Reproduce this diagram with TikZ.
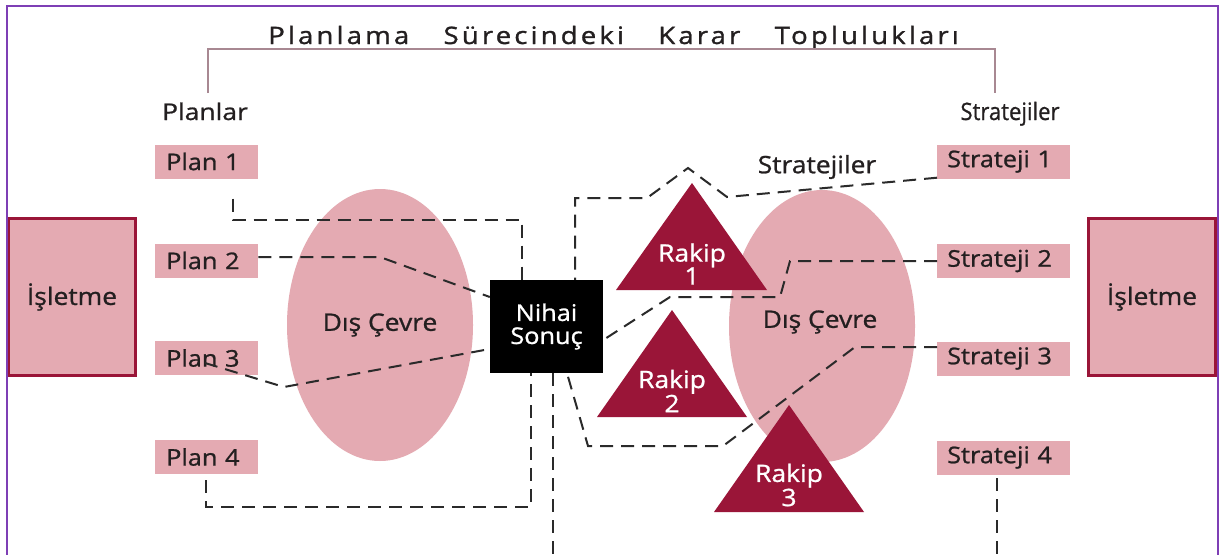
\documentclass[tikz,border=0pt]{standalone}
\usepackage{fontspec}
\setmainfont[FakeStretch=1.1,FakeBold=1]{Open Sans}
\newfontfamily\condfont[LetterSpace=13,FakeStretch=1.15,FakeBold=1.2]{Open Sans}
\newfontfamily\wlabfont[FakeStretch=1.15,FakeBold=0.8]{Open Sans}
\newfontfamily\nlabfont[FakeStretch=0.92,FakeBold=0.8]{Open Sans}
\usetikzlibrary{shapes.geometric}
\definecolor{pinkfill}{HTML}{E4AAB2}
\definecolor{wine}{HTML}{9A1538}
\definecolor{framec}{HTML}{7E3FB5}
\definecolor{dashc}{HTML}{2A2A2A}
\definecolor{brk}{HTML}{A88892}
\definecolor{ink}{HTML}{231F20}
\tikzset{
  planbox/.style={fill=pinkfill, anchor=west, minimum height=34pt, text width=81pt,
    inner xsep=11pt, inner ysep=0pt, align=left, text=ink,
    font=\fontsize{23}{24}\selectfont},
  stratbox/.style={planbox, text width=113pt, inner xsep=10pt},
  isbox/.style={draw=wine, line width=3pt, fill=pinkfill, minimum width=127pt,
    minimum height=157pt, inner sep=0pt, text=ink, font=\fontsize{24}{26}\selectfont},
  env/.style={ellipse, fill=pinkfill, minimum width=186pt, minimum height=272pt,
    inner sep=0pt, text=ink, font=\fontsize{24}{26}\selectfont},
  rk/.style={text=white, align=center, inner sep=0pt, font=\fontsize{24}{23}\selectfont},
  conn/.style={draw=dashc, line width=2pt, dash pattern=on 13pt off 8pt},
  toplab/.style={text=ink, inner sep=0pt, anchor=base},
}
\newcommand{\wgap}{\hspace{24pt}}
\begin{document}
\begin{tikzpicture}[x=1pt,y=-1pt]
\useasboundingbox (0,0) rectangle (1222,554);
\fill[white] (0,0) rectangle (1222,554);

% title and bracket
\node[text=ink, inner sep=0pt, anchor=base west, font=\condfont\fontsize{24}{26}\selectfont] (title) at (268,44)
  {Planlama \wgap Sürecindeki \wgap Karar \wgap Toplulukları};
\draw[brk, line width=1.5pt] (208,93) -- (208,49) -- (995,49) -- (995,93);
\node[toplab, font=\wlabfont\fontsize{23}{26}\selectfont] (planlar) at (205,120) {Planlar};
\node[toplab, font=\nlabfont\fontsize{24}{26}\selectfont] (stratlar) at (1010,120) {Stratejiler};

% environment ellipses
\node[env] (env1) at (380,325) {Dış Çevre};
\node[env] (env2) at (822,326) {};
\node[text=ink, inner sep=0pt, font=\fontsize{24}{26}\selectfont] (env2t) at (820,322) {Dış Çevre};

% competitors
\fill[wine] (692,183) -- (767,290) -- (616,290) -- cycle;
\node[rk] (r1) at (692,264) {Rakip\\1};
\fill[wine] (672,310) -- (747,417) -- (597,417) -- cycle;
\node[rk] (r2) at (672,391) {Rakip\\2};
\fill[wine] (789,405) -- (864,512) -- (714,512) -- cycle;
\node[rk] (r3) at (789,485) {Rakip\\3};

% firm boxes
\node[isbox] (is1) at (72,297) {İşletme};
\node[isbox] (is2) at (1152,297) {İşletme};

% plans
\node[planbox] (p1) at (155,161.5) {Plan 1};
\node[planbox] (p2) at (155,260.5) {Plan 2};
\node[planbox] (p3) at (155,358) {Plan 3};
\node[planbox] (p4) at (155,457) {Plan 4};

% strategies
\node[stratbox] (s1) at (937,161.5) {Strateji 1};
\node[stratbox] (s2) at (937,261) {Strateji 2};
\node[stratbox] (s3) at (937,358.5) {Strateji 3};
\node[stratbox] (s4) at (937,457.5) {Strateji 4};
\node[text=ink, inner sep=0pt, font=\fontsize{24}{26}\selectfont] (stratmid) at (817,167) {Stratejiler};

% final result
\node[fill=black, text=white, minimum width=113pt, minimum height=93pt, inner sep=0pt,
  align=center, font=\fontsize{23}{23}\selectfont] (nihai) at (546.5,326.5) {Nihai\\Sonuç};

% connector helper points
\coordinate (j1) at (522,220);
\coordinate (j2) at (380,257);
\coordinate (j3) at (284,387);
\coordinate (j4) at (531,507);
\coordinate (k1a) at (727,197);
\coordinate (k1b) at (688,168);
\coordinate (k1c) at (647,198);
\coordinate (k1d) at (575,198);
\coordinate (k2a) at (790,261);
\coordinate (k2b) at (780,297);
\coordinate (k2c) at (670,297);
\coordinate (k3a) at (855,347);
\coordinate (k3b) at (723,446);
\coordinate (k3c) at (588,446);
\coordinate (k3d) at (567,373);
\coordinate (s4b) at (997,478);
\coordinate (e4) at (997,556);
\coordinate (e5) at (553,556);

% connectors: plans
\draw[conn] ([xshift=78pt,yshift=-20pt]p1.south west) |- (j1) -- (j1 |- nihai.north);
\draw[conn] (p2.east |- j2) -- (j2) -- ([yshift=29.5pt]nihai.west);
\draw[conn] ([xshift=50pt,yshift=-5pt]p3.west) -- (j3) -- ([yshift=-22.5pt]nihai.west);
\draw[conn] ([xshift=51pt,yshift=-6pt]p4.south west) |- (j4) -- (j4 |- nihai.south);
% connectors: strategies
\draw[conn] ([yshift=1pt]s1.south west) -- (k1a) -- (k1b) -- (k1c) -- (k1d) -- (k1d |- nihai.north);
\draw[conn] (s2.west) -- (k2a) -- (k2b) -- (k2c) -- ([yshift=-13.5pt]nihai.east);
\draw[conn] ([yshift=11.5pt]s3.west) -- (k3a) -- (k3b) -- (k3c) -- (k3d |- nihai.south);
\draw[conn] (s4b) -- (e4);
\draw[conn] (e5 |- nihai.south) -- (e5);

% frame
\draw[framec, line width=2.2pt] (7,556) -- (7,6) -- (1218,6) -- (1218,556);
\end{tikzpicture}
\end{document}
